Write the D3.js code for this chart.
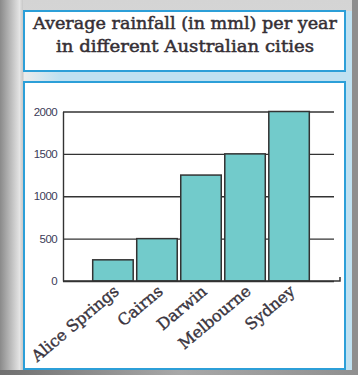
<!DOCTYPE html>
<html><head><meta charset="utf-8">
<script src="https://cdn.jsdelivr.net/npm/d3@7"></script>
<style>html,body{margin:0;padding:0;background:#cfcfcf;}svg{display:block;}</style>
</head><body>
<script>
const cities = ["Alice Springs", "Cairns", "Darwin", "Melbourne", "Sydney"];
const rainfall = [250, 500, 1250, 1500, 2000];
const yTicks = [0, 500, 1000, 1500, 2000];
const titleLines = ["Average rainfall (in mml) per year", "in different Australian cities"];

const W = 358, H = 375;
const svg = d3.select("body").append("svg").attr("width", W).attr("height", H);
const defs = svg.append("defs");
const gl = defs.append("linearGradient").attr("id", "gl").attr("x1", 0).attr("x2", 1).attr("y1", 0).attr("y2", 0);
gl.append("stop").attr("offset", "0%").attr("stop-color", "#8a8a8a");
gl.append("stop").attr("offset", "85%").attr("stop-color", "#e4e4e4");
gl.append("stop").attr("offset", "100%").attr("stop-color", "#c8c8c8");
const gt = defs.append("linearGradient").attr("id", "gt").attr("x1", 0).attr("x2", 0).attr("y1", 0).attr("y2", 1);
gt.append("stop").attr("offset", "0%").attr("stop-color", "#d4d4d4");
gt.append("stop").attr("offset", "100%").attr("stop-color", "#ececec");
const gg = defs.append("linearGradient").attr("id", "gg").attr("x1", 0).attr("x2", 1).attr("y1", 0).attr("y2", 0);
gg.append("stop").attr("offset", "0%").attr("stop-color", "#ececec");
gg.append("stop").attr("offset", "100%").attr("stop-color", "#bfe1f1");
const gb = defs.append("linearGradient").attr("id", "gb").attr("x1", 0).attr("x2", 1).attr("y1", 0).attr("y2", 0);
gb.append("stop").attr("offset", "0%").attr("stop-color", "#707070");
gb.append("stop").attr("offset", "50%").attr("stop-color", "#a8a8a8");
gb.append("stop").attr("offset", "100%").attr("stop-color", "#909090");

// background
svg.append("rect").attr("width", W).attr("height", H).attr("fill", "url(#gt)");
svg.append("rect").attr("x", 24).attr("y", 11).attr("width", 328).attr("height", 359).attr("fill", "#bfe1f1");
svg.append("rect").attr("x", 24).attr("y", 71).attr("width", 36).attr("height", 11).attr("fill", "url(#gg)");
svg.append("rect").attr("x", 0).attr("y", 0).attr("width", 23).attr("height", H).attr("fill", "url(#gl)");
svg.append("rect").attr("x", 352).attr("y", 0).attr("width", 6).attr("height", H).attr("fill", "#8e8e8e");
svg.append("rect").attr("x", 0).attr("y", 370).attr("width", W).attr("height", 5).attr("fill", "url(#gb)");

// boxes
svg.append("rect").attr("x", 24).attr("y", 11).attr("width", 321).attr("height", 60)
  .attr("fill", "#fff").attr("stroke", "#2c9fd8").attr("stroke-width", 2);
svg.append("rect").attr("x", 24).attr("y", 82).attr("width", 321).attr("height", 287)
  .attr("fill", "#fff").attr("stroke", "#2c9fd8").attr("stroke-width", 2);

// title
const tl = [{t: titleLines[0], y: 28.5, len: 304}, {t: titleLines[1], y: 51.5, len: 258}];
svg.selectAll(".title").data(tl).join("text").attr("class", "title")
  .attr("x", 185).attr("y", d => d.y).attr("text-anchor", "middle")
  .attr("textLength", d => d.len).attr("lengthAdjust", "spacingAndGlyphs")
  .style("font-family", "'DejaVu Serif', serif").style("font-size", "17.5px")
  .attr("fill", "#352f35").attr("stroke", "#352f35").attr("stroke-width", 0.5)
  .text(d => d.t);

// scales
const y = d3.scaleLinear().domain([0, 2000]).range([281, 111.5]);
const x = d3.scaleBand().domain(cities).range([92.7, 309.3]).paddingInner(0.08).paddingOuter(0);
const axisX0 = 63, gridEnd = 334, baseEnd = 340;

// y axis with gridlines
const gy = svg.append("g").attr("transform", `translate(${axisX0},0)`)
  .call(d3.axisLeft(y).tickValues(yTicks).tickFormat(d3.format("d"))
    .tickSizeInner(-(gridEnd - axisX0)).tickSizeOuter(0).tickPadding(6));
gy.select(".domain").attr("stroke", "#333").attr("stroke-width", 1.4);
gy.selectAll(".tick line").attr("stroke", "#333").attr("stroke-width", 1.3);
gy.selectAll(".tick text").attr("fill", "#3b3b58")
  .style("font-family", "'Liberation Sans', Arial, sans-serif").style("font-size", "11.5px")
  .style("letter-spacing", "-0.6px");

// bars
svg.selectAll(".bar").data(cities).join("rect").attr("class", "bar")
  .attr("x", d => x(d)).attr("width", x.bandwidth())
  .attr("y", (d, i) => y(rainfall[i])).attr("height", (d, i) => y(0) - y(rainfall[i]))
  .attr("fill", "#72cbcb").attr("stroke", "#333").attr("stroke-width", 1.5);

// baseline
svg.append("path")
  .attr("d", `M${axisX0},${y(0)}H${baseEnd}V${y(0) - 4}`)
  .attr("fill", "none").attr("stroke", "#333").attr("stroke-width", 1.5);

// x labels
const gx = svg.append("g").attr("transform", `translate(0,${y(0)})`)
  .call(d3.axisBottom(x).tickSize(0));
gx.select(".domain").remove();
gx.selectAll(".tick text")
  .attr("x", 7).attr("y", 12).attr("dy", 0)
  .attr("text-anchor", "end")
  .attr("transform", "rotate(-40,7,12)")
  .attr("fill", "#3a3540").attr("stroke", "#3a3540").attr("stroke-width", 0.4)
  .style("font-family", "'DejaVu Serif', serif").style("font-size", "16px");
</script>
</body></html>
